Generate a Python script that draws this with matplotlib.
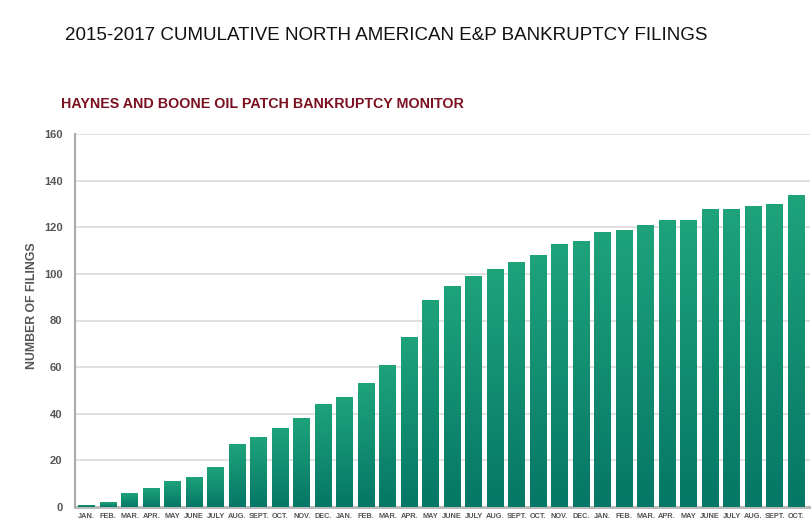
import numpy as np
import matplotlib
matplotlib.use("Agg")
import matplotlib.pyplot as plt
from matplotlib.colors import LinearSegmentedColormap

# months, 2015 Jan .. 2017 Oct
months = ["JAN.", "FEB.", "MAR.", "APR.", "MAY", "JUNE", "JULY", "AUG.", "SEPT.", "OCT.", "NOV.", "DEC.",
          "JAN.", "FEB.", "MAR.", "APR.", "MAY", "JUNE", "JULY", "AUG.", "SEPT.", "OCT.", "NOV.", "DEC.",
          "JAN.", "FEB.", "MAR.", "APR.", "MAY", "JUNE", "JULY", "AUG.", "SEPT.", "OCT."]
filings = [1, 2, 6, 8, 11, 13, 17, 27, 30, 34, 38, 44,
           47, 53, 61, 73, 89, 95, 99, 102, 105, 108, 113, 114,
           118, 119, 121, 123, 123, 128, 128, 129, 130, 134]
yticks = [0, 20, 40, 60, 80, 100, 120, 140, 160]

plt.rcParams['font.family'] = ['Liberation Sans', 'DejaVu Sans']

fig = plt.figure(figsize=(8.12, 5.26), dpi=100)
ax = fig.add_axes([75/812, 19/526, 735/812, 373/526])

x = np.arange(len(filings))
width = 0.79
bars = ax.bar(x, filings, width=width, color="none", edgecolor="none", zorder=3)

# vertical gradient inside each bar
cmap = LinearSegmentedColormap.from_list("grn", ["#057766", "#1ea37b"])
grad = np.linspace(0, 1, 256).reshape(-1, 1)
for b in bars:
    x0 = b.get_x()
    h = b.get_height()
    im = ax.imshow(grad, cmap=cmap, aspect="auto", origin="lower",
                   extent=[x0, x0 + b.get_width(), 0, h], zorder=3)
    im.set_clip_path(b)

ax.set_xlim(-0.55, 33.65)
ax.set_ylim(0, 160)
ax.set_yticks(yticks)
ax.set_yticklabels([str(v) for v in yticks], fontsize=8, fontweight="bold", color="#555555")
ax.set_xticks(x)
ax.set_xticklabels(months, fontsize=5.3, fontweight="bold", color="#555555")
ax.tick_params(axis="both", length=0)
ax.tick_params(axis="y", pad=9)
ax.tick_params(axis="x", pad=4)

ax.grid(axis="y", color="#dddddd", linewidth=1.3, zorder=0)
ax.set_axisbelow(True)
for s in ["top", "right"]:
    ax.spines[s].set_visible(False)
ax.spines["left"].set_color("#aaaaaa")
ax.spines["left"].set_linewidth(1.5)
ax.spines["bottom"].set_color("#bbbbbb")
ax.spines["bottom"].set_linewidth(2.2)
ax.spines["bottom"].set_zorder(2)

fig.text(32/812, 1 - 306/526, "NUMBER OF FILINGS", rotation=90,
         fontsize=8.8, fontweight="bold", color="#555555", va="center", ha="center")

fig.text(65/812, 1 - 35/526, "2015-2017 CUMULATIVE NORTH AMERICAN E&P BANKRUPTCY FILINGS",
         fontsize=13.5, color="#111111", va="center", ha="left")
fig.text(61/812, 1 - 104/526, "HAYNES AND BOONE OIL PATCH BANKRUPTCY MONITOR",
         fontsize=10.3, fontweight="bold", color="#7a1020", va="center", ha="left")

fig.savefig("out.png", dpi=100)
